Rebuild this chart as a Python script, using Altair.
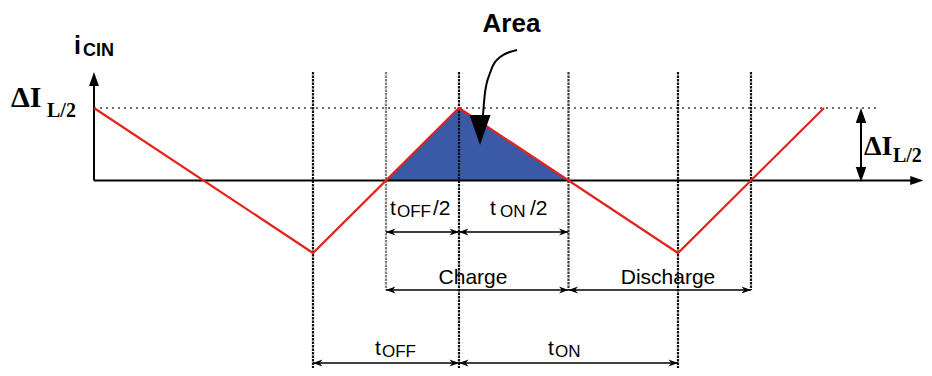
import altair as alt
import pandas as pd

# ---- data (time in units with t_OFF = 2, t_ON = 3; current in units of dI_L/2) ----
T_OFF = 2.0
T_ON = 3.0
wave_t = [0, 3, 5, 8, 10]
wave_i = [1, -1, 1, -1, 1]
area_t = [4, 5, 6.5]
area_i = [0, 1, 0]
marker_t = [3, 4, 5, 6.5, 8, 9]
marker_tone = ["dark", "light", "dark", "mid", "dark", "dark"]
marker_short = [False, True, False, True, False, True]
# dimension arrows: (start, end, row)
dim_start = [4, 5, 4, 6.5, 3, 5]
dim_end = [5, 6.5, 6.5, 9, 5, 8]
dim_row = [-0.71, -0.71, -1.51, -1.51, -2.517, -2.517]
# curved "Area" pointer
curve_t = [5.795, 5.562, 5.425, 5.356, 5.329]
curve_i = [1.800, 1.703, 1.483, 1.207, 0.903]

W, H = 916, 360
XS = alt.Scale(domain=[-1.178, 11.370], nice=False, zero=False)
YS = alt.Scale(domain=[-2.586, 2.379], nice=False, zero=False)
Y_TOP = 1.497
Y_BOT = -2.586

R_ARROW = "M0,0L-2,-0.75L-1.4,0L-2,0.75Z"
L_ARROW = "M0,0L2,-0.75L1.4,0L2,0.75Z"
UP_TRI = "M0,0L-0.7,2L0.7,2Z"
DOWN_TRI = "M0,0L-0.7,-2L0.7,-2Z"
RIGHT_TRI = "M0,0L-2,-0.7L-2,0.7Z"


def X(f="t"):
    return alt.X(f"{f}:Q", scale=XS, axis=None)


def Y(f="i"):
    return alt.Y(f"{f}:Q", scale=YS, axis=None)


layers = []

# blue charge area
area_df = pd.DataFrame({"t": area_t, "i": area_i})
layers.append(alt.Chart(area_df).mark_area(color="#3a5aa8", opacity=1, line=False)
              .encode(x=X(), y=Y(), y2=alt.datum(0)))

# dotted level line
lvl = pd.DataFrame({"t": [wave_t[0]], "t2": [10.726], "i": [max(wave_i)]})
layers.append(alt.Chart(lvl).mark_rule(color="#6f6f6f", strokeWidth=1.8, strokeDash=[2, 4])
              .encode(x=X(), x2="t2:Q", y=Y()))

# dashed vertical markers
mk = pd.DataFrame({"t": marker_t, "tone": marker_tone, "short": marker_short})
mk["top"] = Y_TOP
mk["bot"] = [-1.51 if s else Y_BOT for s in marker_short]
layers.append(alt.Chart(mk).mark_rule(strokeWidth=2.2, strokeDash=[2.5, 1])
              .encode(x=X(), y=alt.Y("top:Q", scale=YS, axis=None), y2="bot:Q",
                      color=alt.Color("tone:N", legend=None,
                                      scale=alt.Scale(domain=["dark", "mid", "light"],
                                                      range=["#111111", "#3a3a3a", "#808080"]))))

# axes
ax_df = pd.DataFrame({"t": [0], "i": [0], "i2": [1.40], "t2": [11.30]})
layers.append(alt.Chart(ax_df).mark_rule(color="black", strokeWidth=2)
              .encode(x=X(), y=Y(), y2="i2:Q"))
layers.append(alt.Chart(ax_df).mark_rule(color="black", strokeWidth=2)
              .encode(x=X(), x2="t2:Q", y=Y()))
layers.append(alt.Chart(pd.DataFrame({"t": [0], "i": [Y_TOP]}))
              .mark_point(shape=UP_TRI, size=196, filled=True, opacity=1, color="black", strokeWidth=0)
              .encode(x=X(), y=Y()))
layers.append(alt.Chart(pd.DataFrame({"t": [11.36], "i": [0]}))
              .mark_point(shape=RIGHT_TRI, size=169, filled=True, opacity=1, color="black", strokeWidth=0)
              .encode(x=X(), y=Y()))

# red waveform
wave_df = pd.DataFrame({"t": wave_t, "i": wave_i})
layers.append(alt.Chart(wave_df).mark_line(color="#e2231a", strokeWidth=2.2)
              .encode(x=X(), y=Y()))

# dI_L/2 double arrow on the right
dbl = pd.DataFrame({"t": [10.507], "i": [0.05], "i2": [0.95]})
layers.append(alt.Chart(dbl).mark_rule(color="black", strokeWidth=2)
              .encode(x=X(), y=Y(), y2="i2:Q"))
layers.append(alt.Chart(pd.DataFrame({"t": [10.507], "i": [1.0]}))
              .mark_point(shape=UP_TRI, size=225, filled=True, opacity=1, color="black", strokeWidth=0)
              .encode(x=X(), y=Y()))
layers.append(alt.Chart(pd.DataFrame({"t": [10.507], "i": [-0.02]}))
              .mark_point(shape=DOWN_TRI, size=225, filled=True, opacity=1, color="black", strokeWidth=0)
              .encode(x=X(), y=Y()))

# dimension arrows
dim_df = pd.DataFrame({"t": dim_start, "t2": dim_end, "i": dim_row})
layers.append(alt.Chart(dim_df).mark_rule(color="black", strokeWidth=1.6)
              .encode(x=X(), x2="t2:Q", y=Y()))
layers.append(alt.Chart(dim_df).mark_point(shape=L_ARROW, size=90, filled=True, opacity=1,
                                           color="black", strokeWidth=0)
              .encode(x=X(), y=Y()))
layers.append(alt.Chart(dim_df).mark_point(shape=R_ARROW, size=90, filled=True, opacity=1,
                                           color="black", strokeWidth=0)
              .encode(x=X("t2"), y=Y()))

# curved Area pointer
curve_df = pd.DataFrame({"t": curve_t, "i": curve_i})
layers.append(alt.Chart(curve_df).mark_line(color="black", strokeWidth=2, interpolate="monotone")
              .encode(x=X(), y=Y()))
layers.append(alt.Chart(pd.DataFrame({"t": [5.288], "i": [0.490]}))
              .mark_point(shape=DOWN_TRI, size=900, filled=True, opacity=1, color="black", strokeWidth=0)
              .encode(x=X(), y=Y()))


def text_layer(rows, font, size, weight="normal", align="left"):
    df = pd.DataFrame(rows, columns=["label", "t", "i"])
    return (alt.Chart(df)
            .mark_text(font=font, fontSize=size, fontWeight=weight, align=align,
                       baseline="alphabetic", color="black")
            .encode(x=X(), y=Y(), text="label:N"))


SANS = "Liberation Sans"
SERIF = "Liberation Serif"

layers.append(text_layer([("Area", 5.719, 2.048)], SANS, 26, "bold", "center"))
layers.append(text_layer([("i", -0.274, 1.745)], SANS, 25, "bold"))
layers.append(text_layer([("CIN", -0.151, 1.717)], SANS, 18, "bold"))
layers.append(text_layer([("\u0394I", -1.137, 1.014)], SERIF, 30, "bold"))
layers.append(text_layer([("\u0394I", 10.548, 0.352)], SERIF, 28, "bold"))
layers.append(text_layer([("L/2", -0.644, 0.876), ("L/2", 10.945, 0.255)], SERIF, 20, "bold"))
layers.append(text_layer([("t", 4.055, -0.476), ("/2", 4.644, -0.476),
                          ("t", 5.425, -0.476), ("/2", 5.973, -0.476),
                          ("t", 3.849, -2.407), ("t", 6.219, -2.407)], SANS, 21))
layers.append(text_layer([("OFF", 4.151, -0.503), ("ON", 5.562, -0.503),
                          ("OFF", 3.945, -2.434), ("ON", 6.315, -2.434)], SANS, 17))
layers.append(text_layer([("Charge", 5.192, -1.428), ("Discharge", 7.863, -1.428)], SANS, 21,
                         "normal", "center"))

chart = (alt.layer(*layers)
         .properties(width=W, height=H, autosize=alt.AutoSizeParams(type="none"), padding=0)
         .configure_view(stroke=None))

chart.save("out.html", embed_options={"renderer": "svg", "actions": False})
